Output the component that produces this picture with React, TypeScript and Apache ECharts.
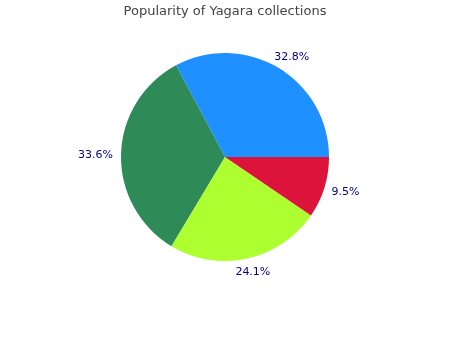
import React, { useEffect, useRef } from "react";
import * as echarts from "echarts";

const categories = ["A", "B", "C", "D"];
const shares = [32.8, 33.6, 24.1, 9.5];
const colors = ["#1e90ff", "#2e8b57", "#adff2f", "#dc143c"];

const CX = 225;
const CY = 157;
const R = 104;
const LABEL_R = 112;

// Mid angle (degrees, counter-clockwise from 3 o'clock) of each slice.
function midAngles(values: number[]): number[] {
  const total = values.reduce((s, v) => s + v, 0);
  let acc = 0;
  return values.map((v) => {
    const mid = acc + v / 2;
    acc += v;
    return (mid / total) * 360;
  });
}

export default function App() {
  const ref = useRef<HTMLDivElement>(null);
  useEffect(() => {
    const chart = echarts.init(ref.current!, null, { renderer: "svg" });
    const mids = midAngles(shares);
    chart.setOption({
      animation: false,
      title: {
        text: "Popularity of Yagara collections",
        left: "center",
        top: -1,
        textStyle: { fontSize: 13, fontWeight: "normal", color: "#444", fontFamily: "DejaVu Sans" },
      },
      series: [
        {
          type: "pie",
          center: [CX, CY],
          radius: R,
          startAngle: 0,
          clockwise: false,
          data: categories.map((name, i) => ({
            name,
            value: shares[i],
            itemStyle: { color: colors[i] },
          })),
          label: {
            show: true,
            position: "outside",
            formatter: (p: any) => `${p.value.toFixed(1)}%`,
            color: "#000080",
            fontSize: 11,
            fontFamily: "DejaVu Sans",
          },
          labelLine: { show: false },
          // Each label box sits just outside the rim, pushed along its slice's mid angle.
          labelLayout: (params: any) => {
            const a = (mids[params.dataIndex] * Math.PI) / 180;
            const ux = Math.cos(a);
            const uy = -Math.sin(a);
            const w = params.labelRect.width;
            const h = params.labelRect.height;
            return {
              x: CX + ux * LABEL_R + ux * (w / 2),
              y: CY + uy * LABEL_R + uy * (h / 2),
              align: "center",
              verticalAlign: "middle",
            };
          },
        },
      ],
    });
    return () => chart.dispose();
  }, []);
  return <div ref={ref} style={{ position: "fixed", left: 0, top: 0, width: 450, height: 350 }} />;
}
